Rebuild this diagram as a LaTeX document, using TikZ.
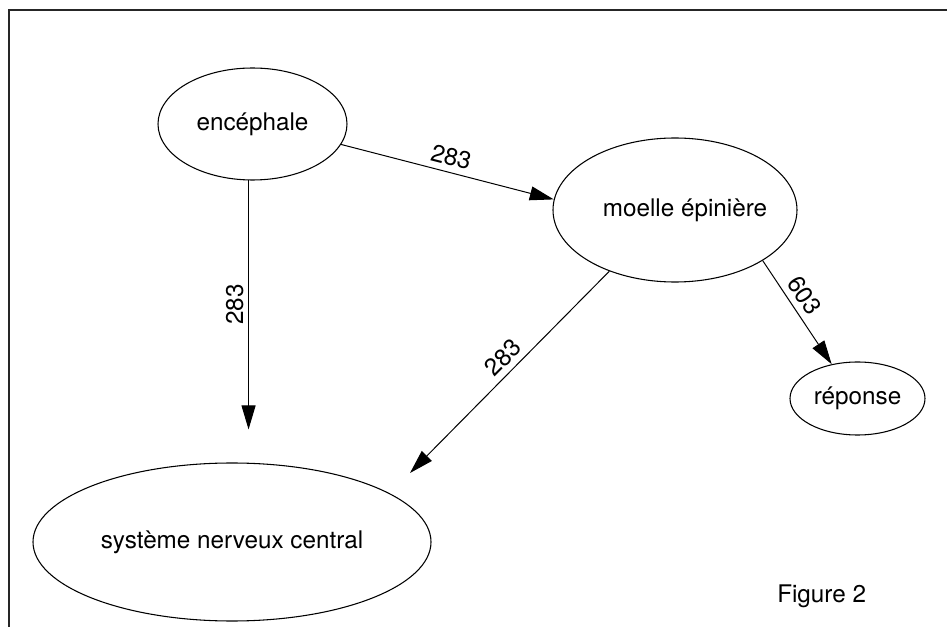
\documentclass[tikz,border=0pt]{standalone}
\usepackage{fontspec}
\setmainfont{TeX Gyre Heros}
\usetikzlibrary{arrows.meta,shapes.geometric}
\tikzset{
  bub/.style={draw, ellipse, line width=0.8pt, inner sep=0pt},
  arr/.style={line width=0.75pt, -{Triangle[length=18pt,width=10.5pt]}},
  lbl/.style={font=\fontsize{18.2pt}{22pt}\selectfont, inner sep=4.5pt},
}
\begin{document}
\begin{tikzpicture}[x=0.75pt,y=-0.75pt,font=\fontsize{18.2pt}{22pt}\selectfont]
\useasboundingbox (0,0) rectangle (947,627);
\draw[line width=1pt, black!85] (947,10) -- (9,10) -- (9,627);
\node[bub, minimum width=141.75pt, minimum height=84pt] (enc) at (252.5,124) {encéphale};
\node[bub, minimum width=183pt, minimum height=108pt, label={[xshift=7.5pt]center:moelle épinière}] (moe) at (675,210) {};
\node[bub, minimum width=101.25pt, minimum height=54.75pt] (rep) at (857.5,398.5) {réponse};
\node[bub, minimum width=298.5pt, minimum height=118.5pt] (snc) at (232,542) {système nerveux central};
\coordinate (sncIn) at (410,473);
\node[anchor=base west, inner sep=0pt] (fig) at (777,602) {Figure 2};
\draw[arr] (enc.-13.2) -- node[lbl, sloped, above, pos=0.5] {283} (moe.175.4);
\draw[arr, shorten >=24.75pt] (enc.266) -- node[lbl, rotate=90, anchor=south, pos=0.44, inner sep=3.5pt] {283} (enc.266 |- snc.north);
\draw[arr] (moe.223.6) -- node[lbl, sloped, above, pos=0.48] {283} (sncIn);
\draw[arr] (moe.-30) -- node[lbl, sloped, above, pos=0.42] {603} (rep.127);
\end{tikzpicture}
\end{document}
